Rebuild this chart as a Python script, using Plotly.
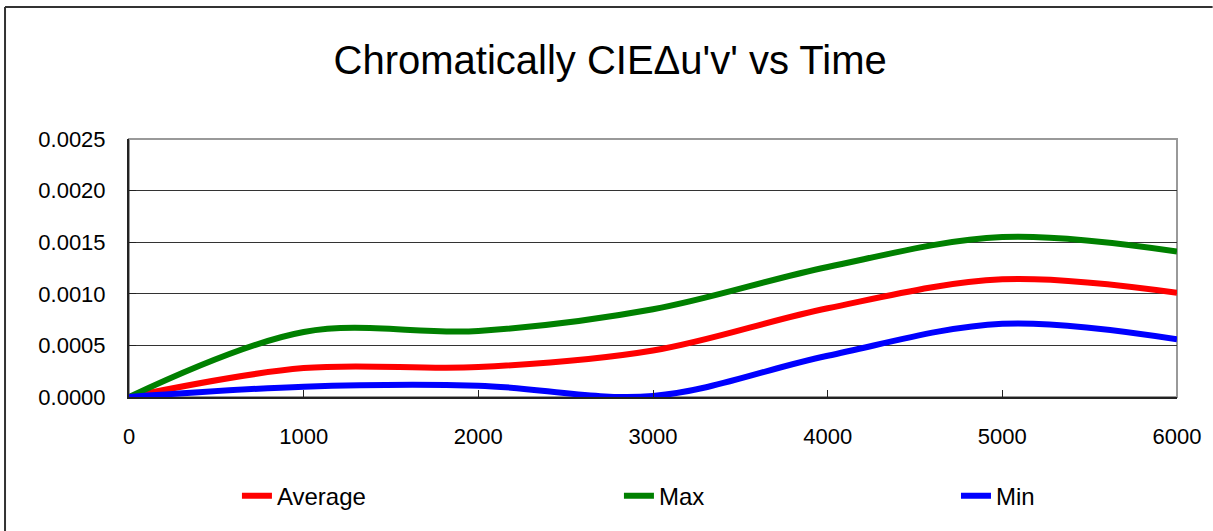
import plotly.graph_objects as go

WIDTH = 1213
HEIGHT = 531
FONT = "Liberation Sans, Arial, sans-serif"

# Time points (hours) and chromaticity shift values
time = [0, 1000, 2000, 3000, 4000, 5000, 6000]
average = [0.0, 0.00028, 0.00029, 0.00045, 0.00086, 0.00114, 0.00101]
maximum = [0.0, 0.00063, 0.00064, 0.00085, 0.00126, 0.00155, 0.00141]
minimum = [0.0, 0.00010, 0.00011, 0.00001, 0.00040, 0.00071, 0.00056]

series = [
    ("Average", average, "#ff0000", "legend2"),
    ("Max", maximum, "#008000", "legend3"),
    ("Min", minimum, "#0000ff", "legend4"),
]

fig = go.Figure()
for name, values, color, leg in series:
    fig.add_trace(go.Scatter(x=time, y=values, mode="lines", name=name, showlegend=True,
                             line=dict(color=color, width=6, shape="spline", smoothing=1.0),
                             legend=leg))


def legend_at(x):
    return dict(x=x, y=-0.384, xanchor="left", yanchor="middle", orientation="h",
                bgcolor="rgba(0,0,0,0)", font=dict(family=FONT, size=24, color="black"))


frame = dict(color="#333333", width=2)

fig.update_layout(
    title=dict(text="Chromatically CIEΔu'v' vs Time", x=0.503, xanchor="center",
               y=1 - 60 / HEIGHT, yanchor="middle",
               font=dict(family=FONT, size=40, color="black")),
    width=WIDTH, height=HEIGHT,
    margin=dict(l=129, r=36, t=139, b=134),
    plot_bgcolor="white", paper_bgcolor="white",
    font=dict(family=FONT, size=22, color="black"),
    showlegend=True,
    legend2=legend_at(0.1030),
    legend3=legend_at(0.4675),
    legend4=legend_at(0.7891),
    shapes=[
        # plot area frame (grey top/right)
        dict(type="rect", xref="paper", yref="paper", x0=0, x1=1, y0=0, y1=1,
             line=dict(color="#999999", width=2), layer="below"),
        # outer chart frame: only top and left edges fall inside the picture
        dict(type="line", xref="paper", yref="paper", x0=-0.1183, x1=1.034, y0=1.5116, y1=1.5116,
             line=frame, layer="below"),
        dict(type="line", xref="paper", yref="paper", x0=-0.1183, x1=-0.1183, y0=-0.52, y1=1.5116,
             line=frame, layer="below"),
    ],
)

fig.update_xaxes(range=[0, 6000], dtick=1000, tick0=0, showgrid=False, zeroline=False,
                 showline=True, linecolor="#222222", linewidth=2,
                 ticks="inside", ticklen=7, tickcolor="#222222",
                 ticklabelstandoff=19, tickfont=dict(family=FONT, size=22, color="black"))
fig.update_yaxes(range=[0, 0.0025], dtick=0.0005, tick0=0, tickformat=".4f",
                 showgrid=True, gridcolor="#333333", gridwidth=1, zeroline=False,
                 showline=True, linecolor="#222222", linewidth=2,
                 ticks="inside", ticklen=7, tickcolor="#222222",
                 ticklabelstandoff=17, tickfont=dict(family=FONT, size=22, color="black"))

fig.write_html("out.html", config={"displayModeBar": False},
               post_script="document.body.style.margin='0';document.body.style.overflow='hidden';")
